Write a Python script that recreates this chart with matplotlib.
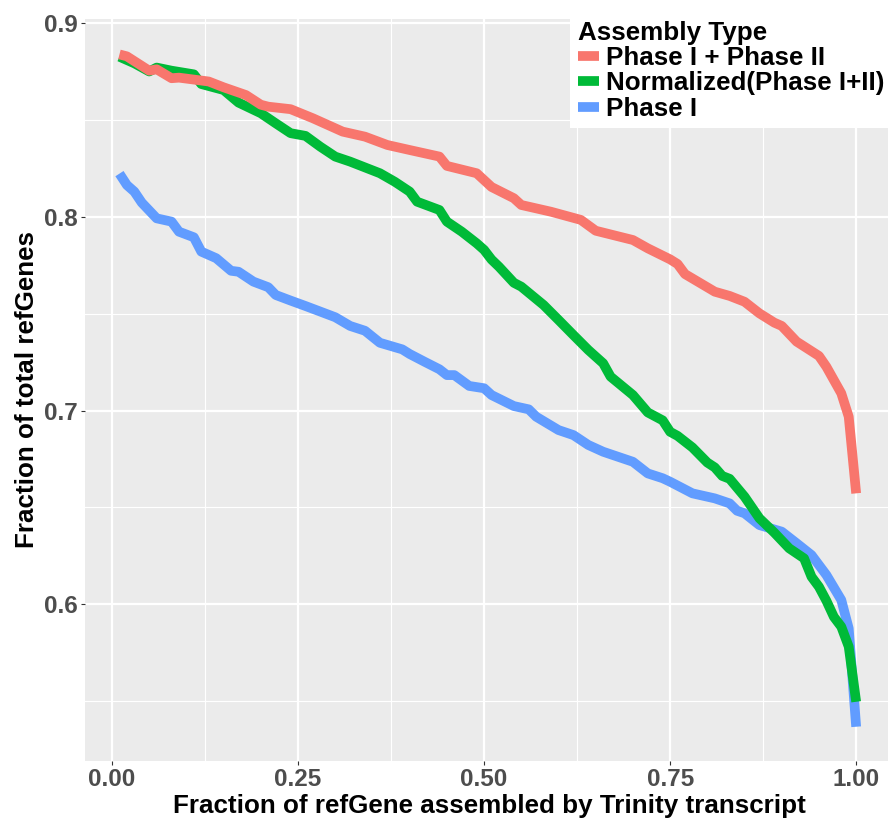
import matplotlib
matplotlib.use("Agg")
import matplotlib.pyplot as plt

plt.rcParams['font.family'] = ['Liberation Sans', 'DejaVu Sans']

# series (x = fraction of refGene assembled)
red_x = [0.01, 0.02, 0.05, 0.06, 0.08, 0.09, 0.13, 0.15, 0.18, 0.20, 0.21, 0.24,
         0.27, 0.31, 0.34, 0.37, 0.40, 0.44, 0.45, 0.49, 0.51, 0.54, 0.55, 0.59,
         0.63, 0.65, 0.70, 0.72, 0.75, 0.76, 0.77, 0.81, 0.83, 0.85, 0.87, 0.89,
         0.90, 0.92, 0.95, 0.96, 0.98, 0.99, 1.00]
red_y = [0.884, 0.883, 0.8756, 0.8763, 0.8717, 0.872, 0.870, 0.867, 0.863, 0.858,
         0.857, 0.8557, 0.851, 0.8441, 0.8415, 0.8372, 0.8346, 0.8312, 0.8264,
         0.8226, 0.8155, 0.8097, 0.8062, 0.8027, 0.7985, 0.7929, 0.7881, 0.7838,
         0.7781, 0.7757, 0.7705, 0.7614, 0.7592, 0.7562, 0.7502, 0.7454, 0.7437,
         0.7356, 0.7282, 0.7226, 0.7089, 0.6968, 0.6572]

green_x = [0.01, 0.03, 0.05, 0.06, 0.08, 0.11, 0.12, 0.15, 0.17, 0.20, 0.22, 0.24,
           0.26, 0.28, 0.30, 0.32, 0.36, 0.38, 0.40, 0.41, 0.44, 0.45, 0.47, 0.49,
           0.50, 0.51, 0.52, 0.54, 0.55, 0.58, 0.60, 0.62, 0.64, 0.66, 0.67, 0.70,
           0.72, 0.74, 0.75, 0.76, 0.78, 0.80, 0.81, 0.82, 0.83, 0.85, 0.87, 0.89,
           0.91, 0.93, 0.94, 0.95, 0.96, 0.97, 0.98, 0.99, 1.00]
green_y = [0.8828, 0.8794, 0.8752, 0.8772, 0.8756, 0.8737, 0.8687, 0.8656, 0.8591,
           0.8536, 0.8484, 0.8433, 0.8419, 0.8363, 0.8312, 0.8286, 0.8226, 0.8182,
           0.8131, 0.8079, 0.8036, 0.7976, 0.7924, 0.7864, 0.783, 0.778, 0.7743,
           0.766, 0.764, 0.7545, 0.7468, 0.739, 0.7313, 0.7244, 0.7175, 0.708,
           0.699, 0.6949, 0.689, 0.6869, 0.6809, 0.6731, 0.6706, 0.6662, 0.6647,
           0.6555, 0.6443, 0.6369, 0.6288, 0.6236, 0.6141, 0.6089, 0.6017, 0.5934,
           0.5883, 0.578, 0.5495]

blue_x = [0.01, 0.02, 0.03, 0.04, 0.06, 0.08, 0.09, 0.11, 0.12, 0.14, 0.16, 0.17,
          0.19, 0.21, 0.22, 0.24, 0.26, 0.28, 0.30, 0.32, 0.34, 0.36, 0.39, 0.40,
          0.42, 0.44, 0.45, 0.46, 0.48, 0.50, 0.51, 0.54, 0.56, 0.57, 0.60, 0.62,
          0.64, 0.66, 0.70, 0.72, 0.74, 0.75, 0.78, 0.81, 0.83, 0.84, 0.85, 0.87,
          0.90, 0.92, 0.94, 0.96, 0.98, 0.99, 1.00]
blue_y = [0.8224, 0.8165, 0.8131, 0.8074, 0.7993, 0.7976, 0.7924, 0.7895, 0.7821,
          0.7787, 0.7722, 0.7717, 0.7666, 0.7637, 0.7597, 0.7568, 0.754, 0.7511,
          0.7482, 0.7437, 0.7412, 0.735, 0.7316, 0.7292, 0.7252, 0.7213, 0.7183,
          0.7183, 0.7127, 0.7115, 0.708, 0.7023, 0.7006, 0.6968, 0.6899, 0.6873,
          0.6822, 0.6787, 0.6735, 0.6675, 0.665, 0.6632, 0.6572, 0.6546, 0.652,
          0.6482, 0.6469, 0.6408, 0.6374, 0.6314, 0.6253, 0.615, 0.6021, 0.5874,
          0.5366]

labels = ['Phase I + Phase II', 'Normalized(Phase I+II)', 'Phase I']
colors = ['#F8766D', '#00BA38', '#619CFF']
x_ticks = [0.0, 0.25, 0.5, 0.75, 1.0]
x_ticklabels = ['0.00', '0.25', '0.50', '0.75', '1.00']
y_ticks = [0.6, 0.7, 0.8, 0.9]
y_ticklabels = ['0.6', '0.7', '0.8', '0.9']

W, H = 888, 818
fig = plt.figure(figsize=(W / 100, H / 100), dpi=100)
# panel in pixels: left 85, right ~893 (runs past the edge), top 19, bottom 761
ax = fig.add_axes([85 / W, (H - 761) / H, (893 - 85) / W, (761 - 19) / H])
ax.set_facecolor('#EBEBEB')
for s in ax.spines.values():
    s.set_visible(False)

# grid
ax.set_xticks([0.125, 0.375, 0.625, 0.875], minor=True)
ax.set_yticks([0.55, 0.65, 0.75, 0.85], minor=True)
ax.grid(which='major', color='white', linewidth=1.6)
ax.grid(which='minor', color='white', linewidth=0.8)
ax.set_axisbelow(True)

# red on top, blue underneath
for xs, ys, lab, col, z in zip([red_x, green_x, blue_x], [red_y, green_y, blue_y],
                               labels, colors, [4, 3, 2]):
    ax.plot(xs, ys, color=col, linewidth=7, label=lab, solid_capstyle='butt',
            solid_joinstyle='round', zorder=z)

ax.set_xlim(-0.0363, 1.0495)
ax.set_ylim(0.5189, 0.9023)
ax.set_xticks(x_ticks)
ax.set_xticklabels(x_ticklabels)
ax.set_yticks(y_ticks)
ax.set_yticklabels(y_ticklabels)
ax.tick_params(which='minor', length=0)
ax.tick_params(which='major', length=3, width=0.8, color='#333333',
               labelcolor='#4D4D4D', labelsize=17.5, pad=2)
for t in ax.get_xticklabels() + ax.get_yticklabels():
    t.set_fontweight('bold')

ax.set_xlabel('Fraction of refGene assembled by Trinity transcript',
              fontsize=18.7, fontweight='bold', labelpad=2)
ax.set_ylabel('Fraction of total refGenes', fontsize=18.7, fontweight='bold',
              labelpad=4)

# legend sits inside the top-right corner on a white box
leg = ax.legend(loc='upper left', bbox_to_anchor=(570 / W, 1 - 13 / H),
                bbox_transform=fig.transFigure, title='Assembly Type',
                prop={'weight': 'bold', 'size': 18.7},
                title_fontproperties={'weight': 'bold', 'size': 18.7},
                alignment='left', frameon=True, fancybox=False,
                facecolor='white', edgecolor='none', framealpha=1,
                handlelength=0.8, handletextpad=0.3, labelspacing=0.05,
                borderpad=0.3, borderaxespad=0)
leg.set_zorder(10)
for line in leg.get_lines():
    line.set_linewidth(7)

plt.savefig('out.png', dpi=100)
